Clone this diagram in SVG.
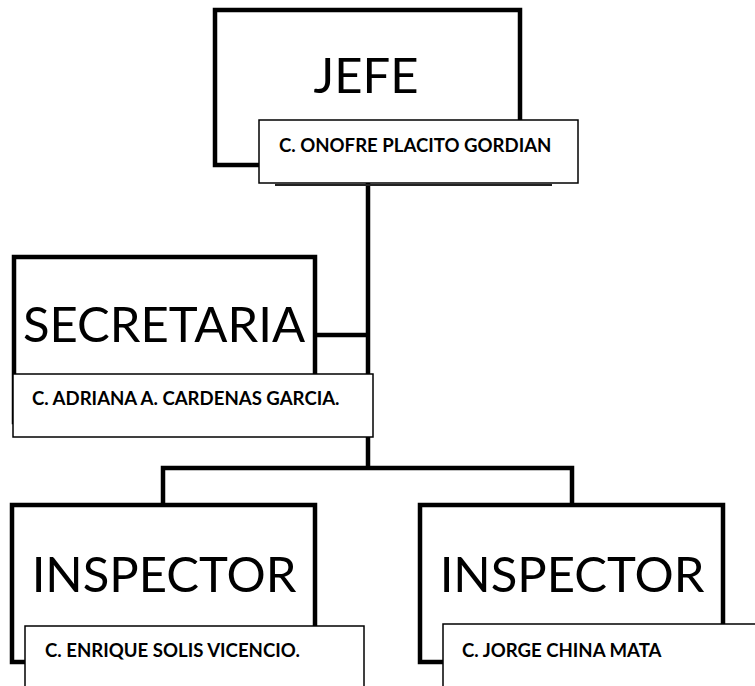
<svg xmlns="http://www.w3.org/2000/svg" width="755" height="686" viewBox="0 0 755 686">
<style>
.box{fill:#fff;stroke:#000;stroke-width:4.5}
.nbox{fill:#fff;stroke:#000;stroke-width:1.5}
.conn{fill:none;stroke:#000;stroke-width:4.5}
.title{font-family:Lato,"Open Sans",sans-serif;font-size:49px;fill:#000;text-anchor:middle}
.name{font-family:Lato,"Open Sans",sans-serif;font-weight:bold;font-size:18.6px;fill:#000}
</style>
<rect width="755" height="686" fill="#fff"/>
<g id="connectors">
<path class="conn" d="M368 183 V468"/>
<path class="conn" d="M315 335 H368"/>
<path class="conn" d="M163 505 V468 H572 V505"/>
</g>
<g id="jefe">
<rect class="box" x="215" y="10" width="305" height="155"/>
<text class="title" x="366" y="93">JEFE</text>
<line x1="275" y1="185" x2="552" y2="185" stroke="#222" stroke-width="2"/>
<rect class="nbox" x="259" y="120" width="319" height="63"/>
<text class="name" x="279" y="152">C. ONOFRE PLACITO GORDIAN</text>
</g>
<g id="secretaria">
<rect class="box" x="14" y="257" width="301" height="165"/>
<text class="title" x="164" y="342">SECRETARIA</text>
<rect class="nbox" x="13" y="374" width="360" height="63"/>
<text class="name" x="32" y="405">C. ADRIANA A. CARDENAS GARCIA.</text>
</g>
<g id="inspector1">
<rect class="box" x="12" y="505" width="303" height="157"/>
<text class="title" x="164" y="592">INSPECTOR</text>
<rect class="nbox" x="25" y="626" width="339" height="80"/>
<text class="name" x="45" y="657">C. ENRIQUE SOLIS VICENCIO.</text>
</g>
<g id="inspector2">
<rect class="box" x="420" y="505" width="303" height="157"/>
<text class="title" x="572" y="592">INSPECTOR</text>
<rect class="nbox" x="443" y="624" width="330" height="80"/>
<text class="name" x="462" y="657">C. JORGE CHINA MATA</text>
</g>
</svg>
